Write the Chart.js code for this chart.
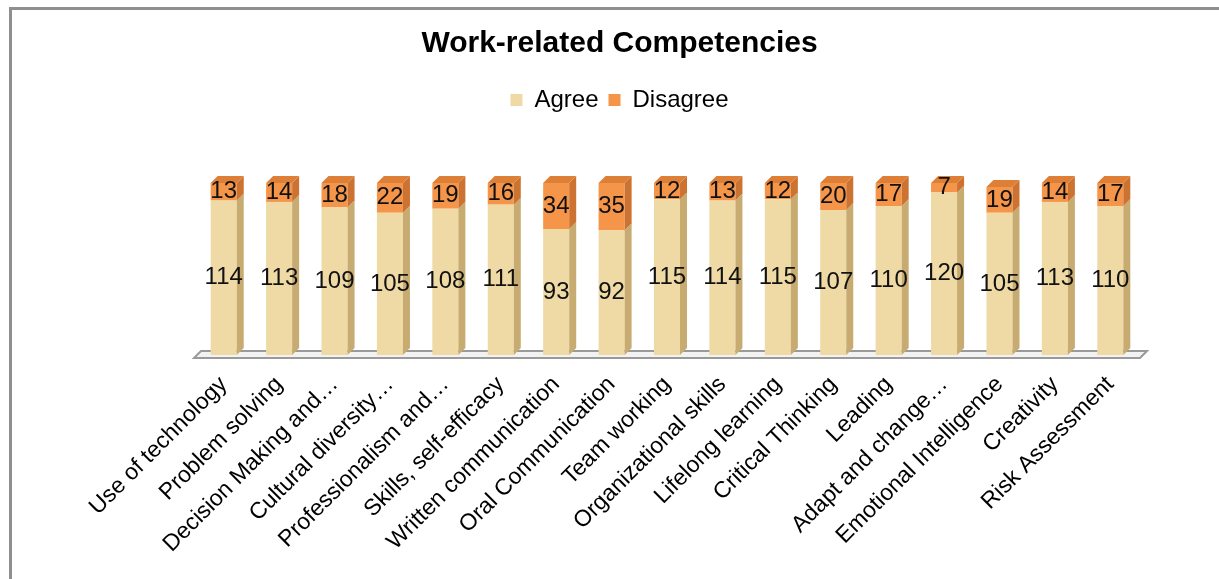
<!DOCTYPE html>
<html>
<head>
<meta charset="utf-8">
<script src="https://cdn.jsdelivr.net/npm/chart.js@4"></script>
<style>
  html, body { margin: 0; padding: 0; background: #fff; overflow: hidden; }
  #frame {
    position: absolute; left: 9px; top: 7px; width: 1300px; height: 700px;
    border-top: 3px solid #8f8f8f; border-left: 3px solid #8f8f8f;
  }
  #wrap { position: absolute; left: 0; top: 0; width: 1219px; height: 579px; }
</style>
</head>
<body>
<div id="frame"></div>
<div id="wrap"><canvas id="chart" width="1219" height="579"></canvas></div>
<script>
// Data
const categories = [
    'Use of technology', 'Problem solving', 'Decision Making and…', 'Cultural diversity…',
    'Professionalism and…', 'Skills, self-efficacy', 'Written communication', 'Oral Communication',
    'Team working', 'Organizational skills', 'Lifelong learning', 'Critical Thinking',
    'Leading', 'Adapt and change…', 'Emotional Intelligence', 'Creativity', 'Risk Assessment'
];
const agree = [114, 113, 109, 105, 108, 111, 93, 92, 115, 114, 115, 107, 110, 120, 105, 113, 110];
const disagree = [13, 14, 18, 22, 19, 16, 34, 35, 12, 13, 12, 20, 17, 7, 19, 14, 17];

const FONT = '"Liberation Sans", Arial, sans-serif';
const DEPTH = 7;

// colours: front, side, top
const faces = [
    { front: '#EFDAA5', side: '#C7AB70', top: '#E2CA92' },
    { front: '#F5954A', side: '#CC7331', top: '#DE7F38' }
];

// draws the floor under the bars
const floorPlugin = {
    id: 'floor',
    beforeDatasetsDraw(chart) {
        const ctx = chart.ctx;
        const area = chart.chartArea;
        const base = chart.scales.y.getPixelForValue(0);
        ctx.save();
        ctx.beginPath();
        ctx.moveTo(area.left - 2, base + 3);
        ctx.lineTo(area.right + 2, base + 3);
        ctx.lineTo(area.right + 2 + DEPTH, base - 4);
        ctx.lineTo(area.left - 2 + DEPTH, base - 4);
        ctx.closePath();
        ctx.fillStyle = '#f2f2f2';
        ctx.fill();
        ctx.strokeStyle = '#9a9a9a';
        ctx.lineWidth = 2;
        ctx.stroke();
        ctx.restore();
    }
};

// side and top faces for a 3D look, then the value labels
const boxPlugin = {
    id: 'box3d',
    afterDatasetsDraw(chart) {
        const ctx = chart.ctx;
        const last = chart.data.datasets.length - 1;
        ctx.save();
        chart.data.datasets.forEach((ds, di) => {
            const meta = chart.getDatasetMeta(di);
            meta.data.forEach(bar => {
                const p = bar.getProps(['x', 'y', 'base', 'width'], true);
                const r = p.x + p.width / 2;
                const l = p.x - p.width / 2;
                ctx.fillStyle = faces[di].side;
                ctx.beginPath();
                ctx.moveTo(r, p.y);
                ctx.lineTo(r + DEPTH, p.y - DEPTH);
                ctx.lineTo(r + DEPTH, p.base - DEPTH);
                ctx.lineTo(r, p.base);
                ctx.closePath();
                ctx.fill();
                if (di === last) {
                    ctx.fillStyle = faces[di].top;
                    ctx.beginPath();
                    ctx.moveTo(l, p.y);
                    ctx.lineTo(l + DEPTH, p.y - DEPTH);
                    ctx.lineTo(r + DEPTH, p.y - DEPTH);
                    ctx.lineTo(r, p.y);
                    ctx.closePath();
                    ctx.fill();
                }
            });
        });
        ctx.font = '24px ' + FONT;
        ctx.fillStyle = '#111';
        ctx.textAlign = 'center';
        ctx.textBaseline = 'middle';
        chart.data.datasets.forEach((ds, di) => {
            const meta = chart.getDatasetMeta(di);
            meta.data.forEach((bar, i) => {
                const p = bar.getProps(['x', 'y', 'base'], true);
                ctx.fillText(ds.data[i], p.x, (p.y + p.base) / 2);
            });
        });
        ctx.restore();
    }
};

new Chart(document.getElementById('chart'), {
    type: 'bar',
    data: {
        labels: categories,
        datasets: [
            { label: 'Agree', data: agree, backgroundColor: faces[0].front },
            { label: 'Disagree', data: disagree, backgroundColor: faces[1].front }
        ]
    },
    options: {
        responsive: false,
        animation: false,
        events: [],
        layout: {
            autoPadding: false,
            padding: { left: 20, right: 0, top: 0, bottom: 0 }
        },
        datasets: { bar: { barPercentage: 0.47, categoryPercentage: 1 } },
        scales: {
            x: {
                stacked: true,
                grid: { display: false },
                border: { display: false },
                ticks: {
                    color: '#000',
                    font: { family: FONT, size: 23 },
                    minRotation: 45,
                    maxRotation: 45,
                    autoSkip: false,
                    padding: 8
                },
                afterFit(scale) { scale.height = 224; }
            },
            y: {
                stacked: true,
                min: 0,
                max: 172,
                grid: { display: false },
                border: { display: false },
                ticks: { display: false },
                afterFit(scale) { scale.width = 176; }
            },
            // empty right-hand axis to keep room on the right
            yRight: {
                position: 'right',
                grid: { display: false },
                border: { display: false },
                ticks: { display: false },
                afterFit(scale) { scale.width = 81; }
            }
        },
        plugins: {
            title: {
                display: true,
                text: 'Work-related Competencies',
                color: '#000',
                font: { family: FONT, size: 30, weight: 'bold' },
                padding: { top: 26, bottom: 16 }
            },
            legend: {
                display: true,
                labels: {
                    color: '#000',
                    font: { family: FONT, size: 24 },
                    boxWidth: 12,
                    boxHeight: 12,
                    padding: 10
                }
            },
            tooltip: { enabled: false }
        }
    },
    plugins: [floorPlugin, boxPlugin]
});
</script>
</body>
</html>
